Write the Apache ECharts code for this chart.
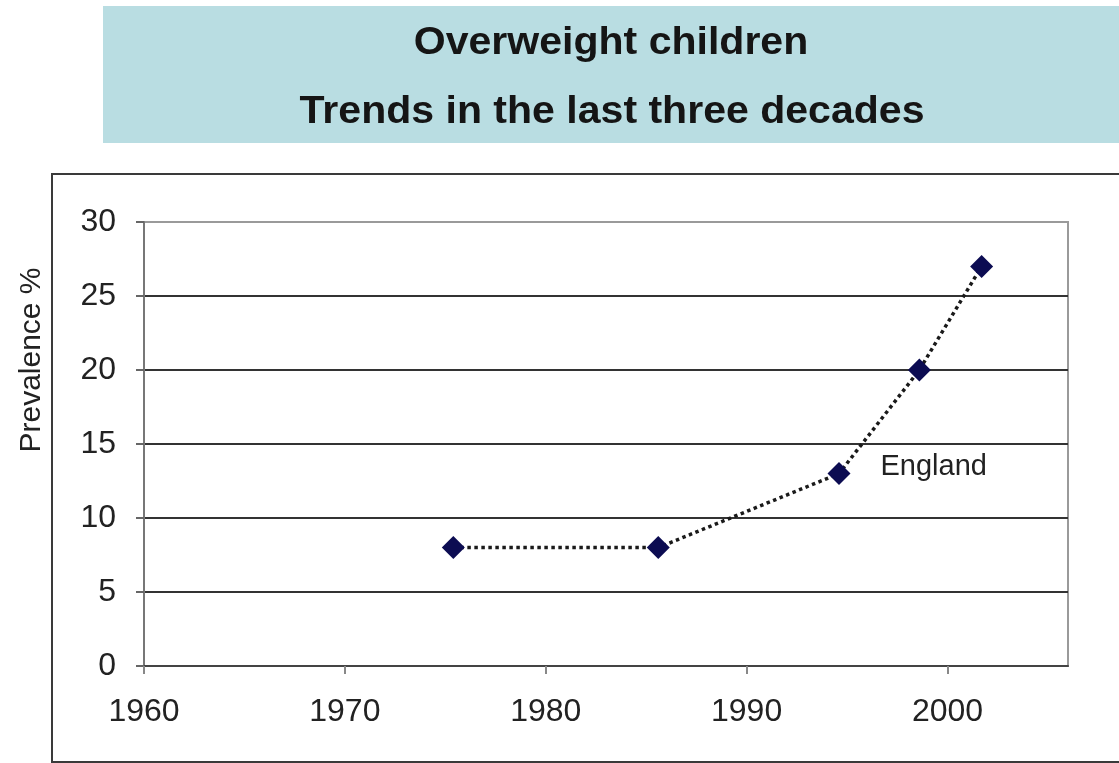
<!DOCTYPE html>
<html>
<head>
<meta charset="utf-8">
<title>Overweight children</title>
<script src="https://cdn.jsdelivr.net/npm/echarts@6/dist/echarts.min.js"></script>
<style>
  html, body { margin: 0; padding: 0; background: #ffffff; }
  #chart { width: 1119px; height: 763px; }
</style>
</head>
<body>
<div id="chart"></div>
<script>
// Prevalence of overweight children in England by survey year
const years = [1975.4, 1985.6, 1994.6, 1998.6, 2001.7];
const prevalence = [8, 8, 13, 20, 27];
const seriesName = 'England';
const labelIndex = 2;
const xTicks = [1960, 1970, 1980, 1990, 2000];
const titleLines = ['Overweight children', 'Trends in the last three decades'];
const yAxisTitle = 'Prevalence %';

const chart = echarts.init(document.getElementById('chart'), null, { renderer: 'canvas' });

const font = 'Liberation Sans, Arial, sans-serif';

const seriesData = years.map((yr, i) => {
  const item = { value: [yr, prevalence[i]] };
  if (i === labelIndex) {
    item.label = {
      show: true,
      formatter: seriesName,
      position: 'right',
      distance: 30,
      offset: [0, -7],
      color: '#222',
      fontSize: 29,
      fontFamily: font
    };
  }
  return item;
});

chart.setOption({
  animation: false,
  backgroundColor: '#ffffff',
  graphic: [
    {
      type: 'rect', z: 0,
      shape: { x: 103, y: 6, width: 1030, height: 137 },
      style: { fill: '#b9dde2' }
    },
    {
      type: 'text', z: 1, x: 611, y: 44, scaleX: 1.08,
      style: { text: titleLines[0], align: 'center', verticalAlign: 'middle',
               font: 'bold 38px ' + font, fill: '#151515' }
    },
    {
      type: 'text', z: 1, x: 612, y: 113, scaleX: 1.08,
      style: { text: titleLines[1], align: 'center', verticalAlign: 'middle',
               font: 'bold 38px ' + font, fill: '#151515' }
    },
    {
      type: 'rect', z: 0,
      shape: { x: 52, y: 174, width: 1100, height: 588 },
      style: { fill: 'none', stroke: '#3a3a3a', lineWidth: 2 }
    },
    {
      type: 'text', z: 1, x: 32, y: 360, rotation: Math.PI / 2,
      style: { text: yAxisTitle, align: 'center', verticalAlign: 'middle',
               font: '30px ' + font, fill: '#222' }
    }
  ],
  grid: {
    left: 144, right: 51, top: 222, bottom: 97,
    show: true, borderColor: '#9a9a9a', borderWidth: 2, backgroundColor: 'transparent'
  },
  xAxis: {
    type: 'value',
    min: 1960, max: 2006, interval: 10,
    axisLine: { lineStyle: { color: '#444', width: 2 } },
    axisTick: { show: true, inside: false, length: 8, customValues: xTicks,
                lineStyle: { color: '#888', width: 2 } },
    axisLabel: { customValues: xTicks, margin: 30, fontSize: 32, color: '#222',
                 fontFamily: font, formatter: v => String(v) },
    splitLine: { show: false }
  },
  yAxis: {
    type: 'value',
    min: 0, max: 30, interval: 5,
    axisLine: { show: true, lineStyle: { color: '#777', width: 2 } },
    axisTick: { show: true, inside: false, length: 8, lineStyle: { color: '#666', width: 2 } },
    axisLabel: { margin: 28, fontSize: 32, color: '#222', fontFamily: font },
    splitLine: { show: true, showMaxLine: false, lineStyle: { color: '#333', width: 2 } }
  },
  series: [{
    name: seriesName,
    type: 'line',
    data: seriesData,
    symbol: 'diamond',
    symbolSize: 23,
    itemStyle: { color: '#0c0c52' },
    lineStyle: { color: '#1a1a1a', width: 3.5, type: [3.5, 3.5], cap: 'butt' },
    z: 5
  }]
});
</script>
</body>
</html>
